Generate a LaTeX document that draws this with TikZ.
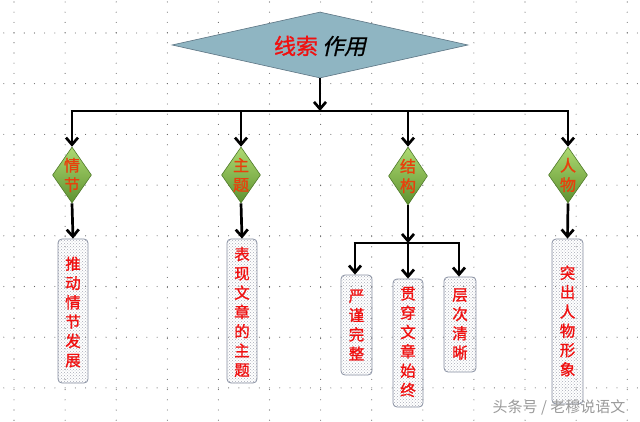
\documentclass[tikz,border=0pt]{standalone}
\usepackage{fontspec}
\newfontfamily\cjk{Noto Sans CJK SC}
\newfontfamily\cjkb[FakeBold=1.2]{Noto Sans CJK SC}
\newfontfamily\cjksl[FakeSlant=0.22,FakeBold=0.8]{Noto Sans CJK SC}
\usetikzlibrary{arrows.meta,shapes.geometric,patterns}
\definecolor{topfill}{HTML}{8FB5C2}
\definecolor{topdraw}{HTML}{5C7483}
\definecolor{gtop}{HTML}{AEDA72}
\definecolor{gbot}{HTML}{5E9230}
\definecolor{gdraw}{HTML}{4F7A2A}
\definecolor{lbl}{HTML}{E8400C}
\definecolor{boxred}{HTML}{F01010}
\definecolor{boxdraw}{HTML}{8890A2}
\definecolor{boxdot}{HTML}{A8ACB8}
\definecolor{wm}{HTML}{9A9A9A}
\tikzset{
  arr/.style={line width=2.7pt,-{Straight Barb[length=7pt,width=12pt,line width=2.7pt]}},
  bline/.style={line width=2.7pt},
  gdia/.style={diamond,minimum width=39pt,minimum height=56pt,inner sep=0pt,shape aspect=0.7,
     top color=gtop,bottom color=gbot,draw=gdraw,line width=0.6pt},
  dlbl/.style={font=\cjkb\fontsize{16}{19.5}\selectfont,text=lbl,align=center,inner sep=0pt},
  vbox/.style={rectangle,rounded corners=4pt,draw=boxdraw,line width=0.8pt,
     pattern=crosshatch dots,pattern color=boxdot,minimum width=30pt,inner sep=0pt},
  btxt/.style={font=\cjkb\fontsize{15.5}{19.3}\selectfont,text=boxred,align=center,inner sep=0pt},
  gdot/.style={fill=black!60}
}
\begin{document}
\begin{tikzpicture}[x=1pt,y=-1pt]
\useasboundingbox (0,0) rectangle (640,422);
\fill[white] (0,0) rectangle (640,422);
% dotted grid
\foreach \k in {0,...,12}{
  \pgfmathsetmacro{\gx}{14+51.1*\k}
  \foreach \j in {0,...,41}{
    \fill[gdot] (\gx,{2+10.2*\j}) circle (0.55pt);
  }
}
\foreach \k in {0,...,7}{
  \pgfmathsetmacro{\gy}{33+50.7*\k}
  \foreach \j in {0,...,62}{
    \fill[gdot] ({3.8+10.22*\j},\gy) circle (0.55pt);
  }
}
% top diamond
\node[diamond,minimum width=296pt,minimum height=66pt,inner sep=0pt,shape aspect=4.5,
  fill=topfill,draw=topdraw,line width=0.6pt] (top) at (320,45) {};
\node[font=\cjk\fontsize{22}{24}\selectfont,inner sep=0pt] (toptxt) at (320,46)
  {\textcolor{boxred}{\cjkb 线索}\hspace{4pt}{\cjksl 作用}};
% connectors
\coordinate (hc) at (320,111);
\coordinate (h1) at (72,111);
\coordinate (h2) at (241,111);
\coordinate (h3) at (408,111);
\coordinate (h4) at (568,111);
\draw[arr] (top.south) -- (hc);
\draw[bline] ([xshift=-1.35pt]h1) -- ([xshift=1.35pt]h4);
% small diamonds
\node[gdia] (d1) at (72,175) {};
\node[gdia] (d2) at (241,175) {};
\node[gdia,minimum height=58pt] (d3) at (408,176) {};
\node[gdia] (d4) at (568,175) {};
\node[dlbl] (t1) at (72,175) {情\\节};
\node[dlbl] (t2) at (241,175) {主\\题};
\node[dlbl] (t3) at (408,176) {结\\构};
\node[dlbl] (t4) at (568,175) {人\\物};
\draw[arr] (h1) -- (d1.north);
\draw[arr] (h2) -- (d2.north);
\draw[arr] (h3) -- (d3.north);
\draw[arr] (h4) -- (d4.north);
% boxes
\node[vbox,minimum height=144pt] (b1) at (73,311) {};
\node[btxt] (bt1) at (73,312) {推\\动\\情\\节\\发\\展};
\node[vbox,minimum height=144pt] (b2) at (242,311) {};
\node[btxt] (bt2) at (242,312) {表\\现\\文\\章\\的\\主\\题};
\node[vbox,minimum height=100pt,minimum width=31pt] (b3) at (356.5,325) {};
\node[btxt] (bt3) at (356.5,325) {严\\谨\\完\\整};
\node[vbox,minimum height=128pt] (b4) at (408,343) {};
\node[btxt] (bt4) at (408,342) {贯\\穿\\文\\章\\始\\终};
\node[vbox,minimum height=95pt,minimum width=32pt] (b5) at (460,324.5) {};
\node[btxt] (bt5) at (460,324) {层\\次\\清\\晰};
\node[vbox,minimum height=165pt,minimum width=31pt] (b6) at (567.5,321.5) {};
\node[btxt] (bt6) at (567.5,321) {突\\出\\人\\物\\形\\象};
\draw[arr] (d1.south) -- (b1.north);
\draw[arr] (d2.south) -- (b2.north);
\draw[arr] (d4.south) -- (b6.north);
% structure branch
\coordinate (s1) at (355,243);
\coordinate (s2) at (408,243);
\coordinate (s3) at (459,243);
\draw[arr] (d3.south) -- (s2);
\draw[bline] ([xshift=-1.35pt]s1) -- ([xshift=1.35pt]s3);
\draw[arr] (s1) -- (b3.north -| s1);
\draw[arr] (s2) -- (b4.north);
\draw[arr] (s3) -- (b5.north -| s3);
% watermark
\node[font=\cjk\fontsize{15}{17}\selectfont,text=wm,inner sep=0pt] (wm) at (559,407) {头条号 / 老穆说语文};
\end{tikzpicture}
\end{document}
